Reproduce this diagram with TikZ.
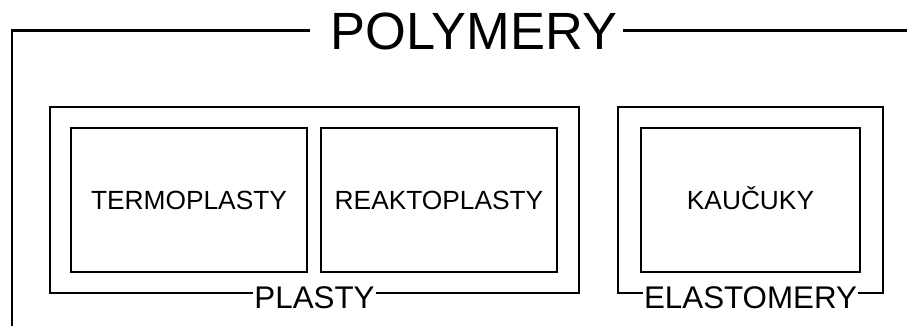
\documentclass[tikz,border=0pt]{standalone}
\usepackage{fontspec}
\setmainfont{Liberation Sans}
\tikzset{
  frame/.style={draw, line width=2.9pt, inner sep=0pt},
  box/.style={draw, line width=2.4pt, inner sep=0pt, text height=18.8pt, text depth=0pt,
    font=\fontsize{26.3}{30}\selectfont},
  lbl/.style={fill=white, inner xsep=1.5pt, inner ysep=0pt, text height=22.4pt, text depth=0pt,
    font=\fontsize{31.3}{36}\selectfont}
}
\begin{document}
\begin{tikzpicture}[x=1pt, y=-1pt]
\useasboundingbox (0,0) rectangle (907,326);
% title and open outer frame
\node[inner sep=0pt, text height=37.5pt, text depth=0pt, font=\fontsize{52.4}{60}\selectfont] (polymery) at (474,30.5) {POLYMERY};
\coordinate (ol) at (12,326);
\coordinate (or) at (907,30.5);
\draw[line width=2.9pt] ([xshift=-21pt]polymery.west) -| (ol);
\draw[line width=2.9pt] ([xshift=6pt]polymery.east) -- (or);
% plasty
\node[frame, minimum width=529pt, minimum height=186pt] (plasty) at (314.5,200) {};
\node[box, minimum width=236pt, minimum height=144pt] (termo) at (189,200) {TERMOPLASTY};
\node[box, minimum width=236pt, minimum height=144pt] (reakto) at (439,200) {REAKTOPLASTY};
\node[lbl] (plastylbl) at ([yshift=-3pt]plasty.south) {PLASTY};
% elastomery
\node[frame, minimum width=265pt, minimum height=186pt] (elast) at (750.5,200) {};
\node[box, minimum width=219pt, minimum height=144pt] (kaucuky) at (750.5,200) {KAUČUKY};
\node[lbl] (elastlbl) at ([yshift=-3pt]elast.south) {ELASTOMERY};
\end{tikzpicture}
\end{document}
